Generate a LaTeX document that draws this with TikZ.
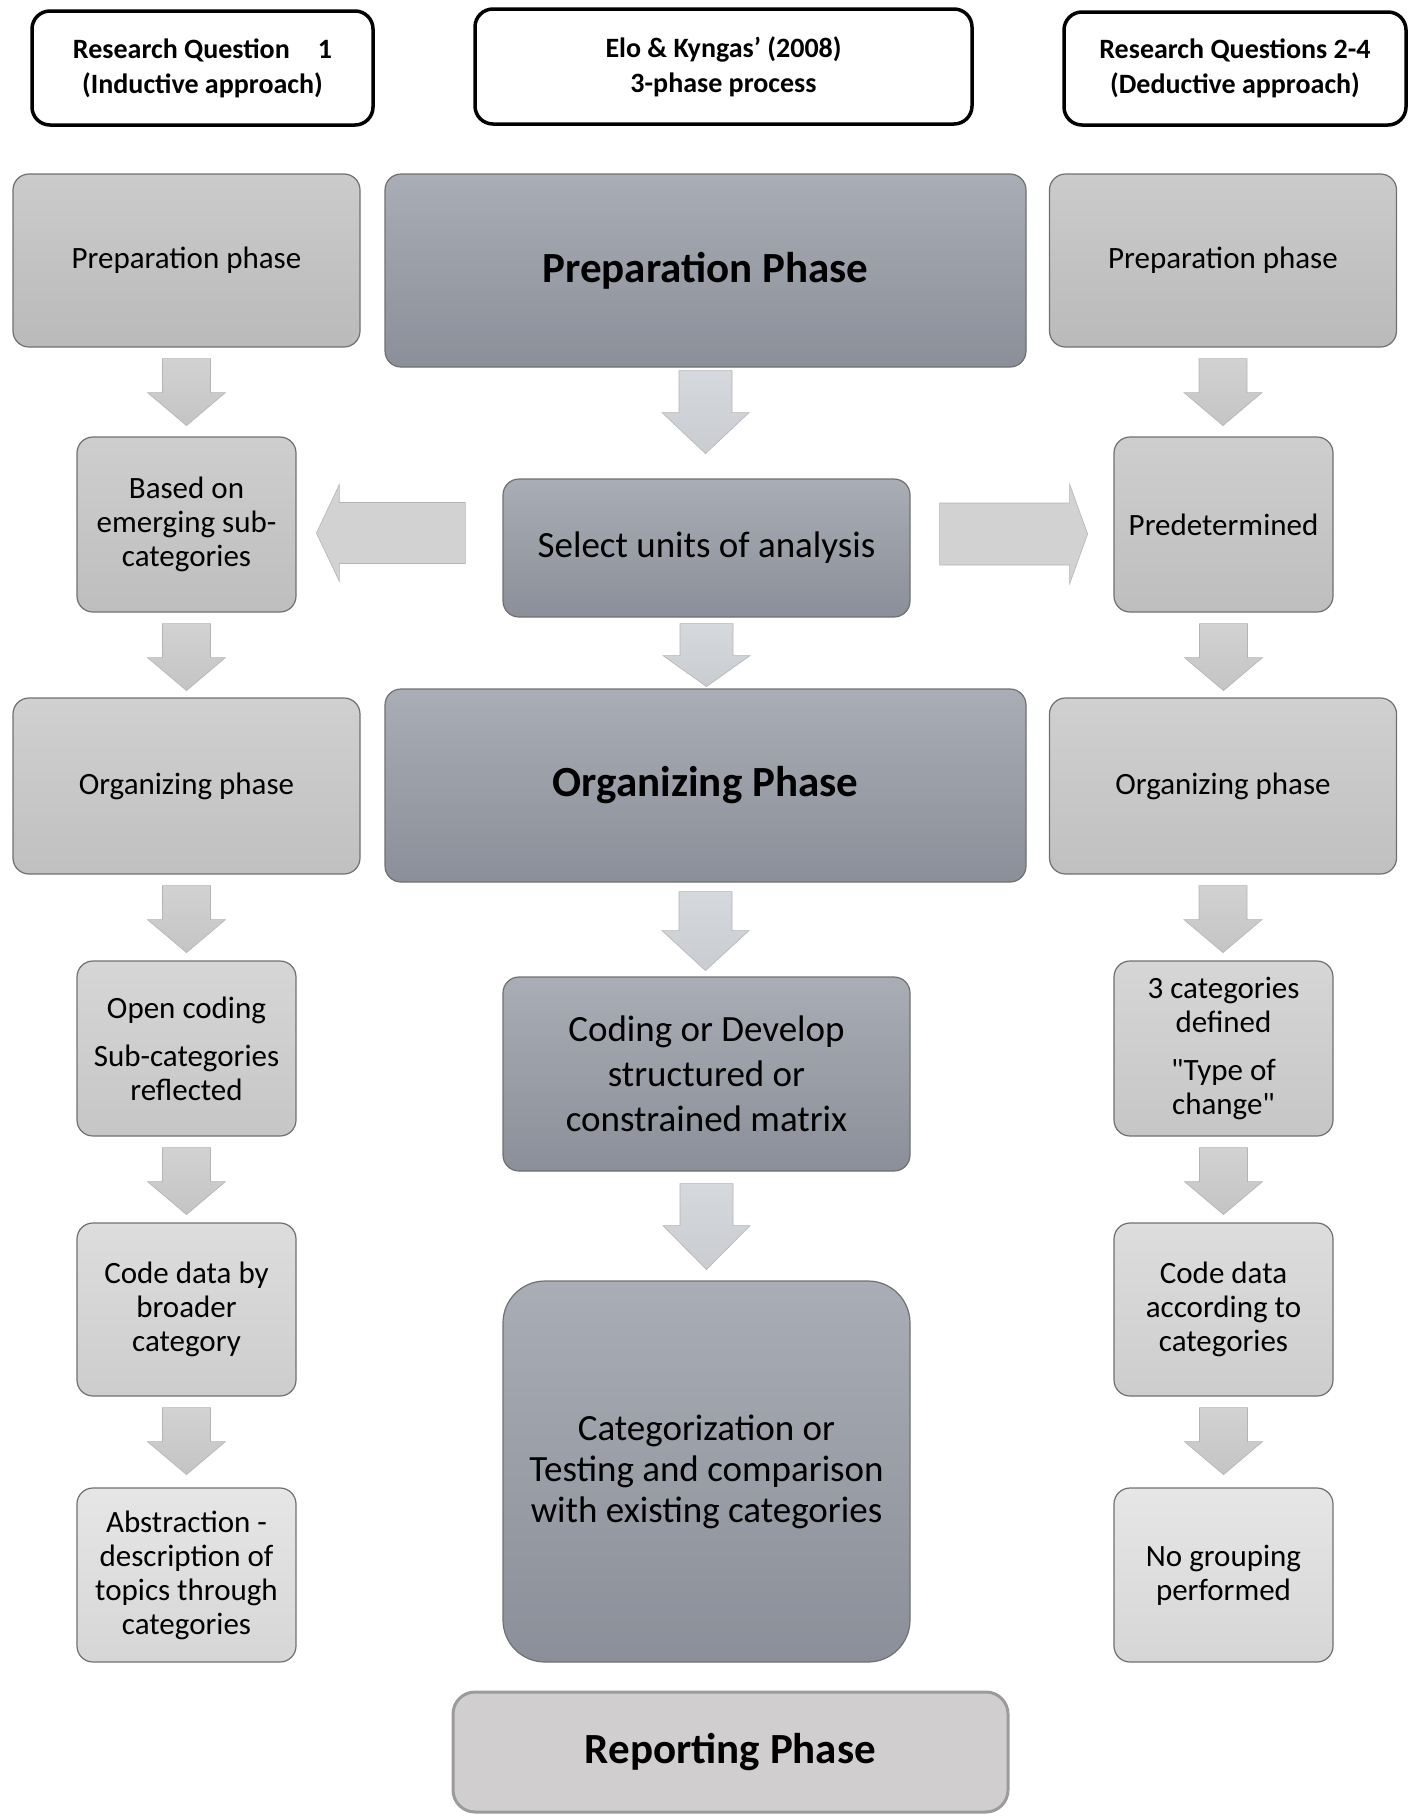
\documentclass[tikz,border=0pt]{standalone}
\usepackage{fontspec}
\setmainfont{Carlito}
\usetikzlibrary{calc}
\definecolor{bordgray}{HTML}{707070}
\definecolor{ctop}{HTML}{A9ADB5}
\definecolor{cbot}{HTML}{8A8F99}
\definecolor{catop}{HTML}{D5D8DC}
\definecolor{cabot}{HTML}{C9CCD0}
\definecolor{satop}{HTML}{D2D2D2}
\definecolor{sabot}{HTML}{C4C4C4}
\definecolor{arrbord}{HTML}{B4B4B4}
\definecolor{repfill}{HTML}{D0CECE}
\definecolor{repbord}{HTML}{9B9B9B}
\tikzset{
  topbox/.style={draw=black, line width=3.5pt, rounded corners=18pt, fill=white, align=center,
    font=\bfseries\fontsize{28}{35}\selectfont, inner sep=0pt},
  sidebox/.style={draw=bordgray, line width=1.2pt, rounded corners=16pt, align=center,
    font=\fontsize{31}{34}\selectfont, inner sep=0pt, minimum width=#1},
  sidebox/.default=219pt,
  centbox/.style={draw=bordgray, line width=1.2pt, rounded corners=16pt, align=center,
    top color=ctop, bottom color=cbot, font=\fontsize{37}{45}\selectfont, inner sep=0pt},
  phasefont/.style={font=\bfseries\fontsize{43}{50}\selectfont},
  sarrow/.style={draw=arrbord, line width=0.6pt, top color=satop, bottom color=sabot},
  carrow/.style={draw=arrbord, line width=0.6pt, top color=catop, bottom color=cabot},
  harrow/.style={draw=arrbord, line width=0.6pt, fill=satop},
}
\newcommand\sidedown[1]{\path[sarrow] ($(#1.south)+(0,11)$) ++(-24,0) -- ++(0,34) -- ++(-15,0) -- ++(39,33) -- ++(39,-33) -- ++(-15,0) -- ++(0,-34) -- cycle;}
\newcommand\centdown[4]{\path[carrow] ($(#1.south)+(0,#2)$) ++(-26.5,0) -- ++(0,#3) -- ++(-17,0) -- ++(43.5,#4) -- ++(43.5,-#4) -- ++(-17,0) -- ++(0,-#3) -- cycle;}
\begin{document}
\begin{tikzpicture}[x=1pt,y=-1pt]
\useasboundingbox (0,0) rectangle (1418,1820);
% top header boxes
\node[topbox, minimum width=341pt, minimum height=114pt] (t1) at (202.5,68) {Research Question\quad 1\\(Inductive approach)};
\node[topbox, minimum width=497pt, minimum height=115pt] (t2) at (723.5,66.5) {Elo \& Kyngas’ (2008)\\3-phase process};
\node[topbox, minimum width=342pt, minimum height=113pt] (t3) at (1235,68.5) {Research Questions 2-4\\(Deductive approach)};
% row 1
\node[sidebox=347pt, minimum height=173pt, top color={rgb,255:red,203;green,203;blue,203}, bottom color={rgb,255:red,186;green,186;blue,186}] (l1) at (186.5,260.5) {Preparation phase};
\node[centbox, phasefont, minimum width=641pt, minimum height=193pt] (c1) at (705.5,270.5) {Preparation Phase};
\node[sidebox=347pt, minimum height=173pt, top color={rgb,255:red,203;green,203;blue,203}, bottom color={rgb,255:red,186;green,186;blue,186}] (r1) at (1223,260.5) {Preparation phase};
% row 2
\node[sidebox, minimum height=175pt, top color={rgb,255:red,206;green,206;blue,206}, bottom color={rgb,255:red,190;green,190;blue,190}] (l2) at (186.5,524.5) {Based on\\emerging sub-\\categories};
\node[centbox, minimum width=407pt, minimum height=138pt] (c2) at (706.5,548) {Select units of analysis};
\node[sidebox, minimum height=175pt, top color={rgb,255:red,206;green,206;blue,206}, bottom color={rgb,255:red,190;green,190;blue,190}] (r2) at (1223.5,524.5) {Predetermined};
% row 3
\node[sidebox=347pt, minimum height=176pt, top color={rgb,255:red,208;green,208;blue,208}, bottom color={rgb,255:red,192;green,192;blue,192}] (l3) at (186.5,786) {Organizing phase};
\node[centbox, phasefont, minimum width=641pt, minimum height=193pt] (c3) at (705.5,785.5) {Organizing Phase};
\node[sidebox=347pt, minimum height=176pt, top color={rgb,255:red,208;green,208;blue,208}, bottom color={rgb,255:red,192;green,192;blue,192}] (r3) at (1223,786) {Organizing phase};
% row 4
\node[sidebox, minimum height=175pt, top color={rgb,255:red,214;green,214;blue,214}, bottom color={rgb,255:red,198;green,198;blue,198}] (l4) at (186.5,1048.5) {Open coding\\[14pt]Sub-categories\\reflected};
\node[centbox, minimum width=407pt, minimum height=194pt] (c4) at (706.5,1074) {Coding or Develop\\structured or\\constrained matrix};
\node[sidebox, minimum height=175pt, top color={rgb,255:red,214;green,214;blue,214}, bottom color={rgb,255:red,198;green,198;blue,198}] (r4) at (1223.5,1048.5) {3 categories\\defined\\[14pt]\textquotedbl Type of\\change\textquotedbl};
% row 5
\node[sidebox, minimum height=173pt, top color={rgb,255:red,221;green,221;blue,221}, bottom color={rgb,255:red,205;green,205;blue,205}] (l5) at (186.5,1309.5) {Code data by\\broader\\category};
\node[centbox, rounded corners=42pt, font=\fontsize{37}{41}\selectfont, minimum width=407pt, minimum height=381pt] (c5) at (706.5,1471.5) {Categorization or\\Testing and comparison\\with existing categories};
\node[sidebox, minimum height=173pt, top color={rgb,255:red,221;green,221;blue,221}, bottom color={rgb,255:red,205;green,205;blue,205}] (r5) at (1223.5,1309.5) {Code data\\according to\\categories};
% row 6
\node[sidebox, minimum height=174pt, top color={rgb,255:red,230;green,230;blue,230}, bottom color={rgb,255:red,214;green,214;blue,214}] (l6) at (186.5,1575) {Abstraction -\\description of\\topics through\\categories};
\node[sidebox, minimum height=174pt, top color={rgb,255:red,230;green,230;blue,230}, bottom color={rgb,255:red,214;green,214;blue,214}] (r6) at (1223.5,1575) {No grouping\\performed};
% reporting
\node[draw=repbord, line width=3pt, rounded corners=22pt, fill=repfill, phasefont, inner sep=0pt, minimum width=555pt, minimum height=120pt] (rep) at (730.5,1752) {Reporting Phase};
% side down arrows
\sidedown{l1}\sidedown{l2}\sidedown{l3}\sidedown{l4}\sidedown{l5}
\sidedown{r1}\sidedown{r2}\sidedown{r3}\sidedown{r4}\sidedown{r5}
% centre down arrows
\centdown{c1}{3}{42}{41}
\centdown{c2}{6}{32}{31}
\centdown{c3}{9}{39}{40}
\centdown{c4}{12}{42}{44}
% horizontal arrows
\path[harrow] ($(c2.west)+(-37,-45.5)$) -- ++(-126,0) -- ++(0,-18) -- ++(-23,48.5) -- ++(23,48.5) -- ++(0,-18) -- ++(126,0) -- cycle;
\path[harrow] ($(c2.east)+(29,-45)$) -- ++(130,0) -- ++(0,-19) -- ++(18,50) -- ++(-18,50) -- ++(0,-19) -- ++(-130,0) -- cycle;
\end{tikzpicture}
\end{document}
